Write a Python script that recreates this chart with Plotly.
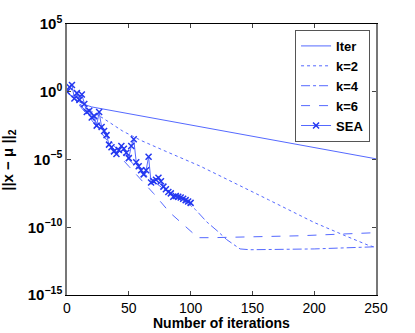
''' Convergence of the iterates '''
import plotly.graph_objects as go
import numpy as np

blue = 'rgb(85,105,255)'
mark_blue = 'rgb(35,55,240)'

# log10 of the error
iter_x = [0, 5, 10, 15, 20, 50, 100, 150, 200, 250]
iter_log = [0.0, -0.45, -0.75, -0.97, -1.12, -1.62, -2.45, -3.28, -4.12, -4.95]

k2_x = [0, 10, 20, 30, 45, 60, 80, 108, 163, 200, 227, 243, 250]
k2_log = [0.0, -0.9, -1.45, -2.0, -2.9, -3.6, -4.4, -5.5, -7.97, -9.65, -10.7, -11.3, -11.5]

k4_x = [0, 10, 20, 30, 40, 50, 60, 70, 80, 90, 100, 104, 113, 122, 129, 140, 148, 200, 250]
k4_log = [0.0, -0.9, -1.9, -3.0, -4.2, -5.0, -5.9, -6.6, -7.3, -7.9, -8.4, -8.7, -9.6,
          -10.3, -10.9, -11.6, -11.66, -11.6, -11.44]

k6_x = [0, 10, 20, 30, 40, 50, 60, 70, 83, 94, 106, 117, 188, 250]
k6_log = [0.0, -1.0, -2.1, -3.3, -4.5, -5.5, -6.5, -7.5, -8.9, -9.8, -10.77, -10.77, -10.63, -10.4]

sea_x = list(range(0, 101, 2))
sea_log = [0.0, 0.35, 0.5, -0.5, -0.1, -0.6, -0.2, -0.9, -1.5, -1.4, -1.9, -1.8, -2.5, -1.5,
           -2.6, -2.9, -3.2, -3.9, -4.1, -4.4, -4.6, -4.3, -4.0, -4.2, -4.5, -4.9, -4.0, -3.5,
           -5.2, -5.5, -5.8, -6.1, -5.8, -4.8, -6.7, -6.6, -6.5, -6.35, -6.6, -7.0, -7.2,
           -7.4, -7.5, -7.75, -7.7, -7.75, -7.8, -7.9, -8.0, -8.1, -8.2]

series = [
    ('Iter', iter_x, iter_log, 'solid'),
    ('k=2', k2_x, k2_log, 'dot'),
    ('k=4', k4_x, k4_log, 'dashdot'),
    ('k=6', k6_x, k6_log, 'dash'),
]

fig = go.Figure()
for name, xs, ys, dash in series:
    fig.add_trace(go.Scatter(
        x=xs, y=10.0 ** np.array(ys), mode='lines', name='<b>' + name + '</b>',
        line=dict(color=blue, width=1, dash=dash)
    ))

fig.add_trace(go.Scatter(
    x=sea_x, y=10.0 ** np.array(sea_log), mode='lines+markers', name='<b>SEA</b>',
    line=dict(color=blue, width=1),
    marker=dict(symbol='x-thin', size=6, line=dict(color=mark_blue, width=1.5))
))

txt = dict(family='Liberation Sans', size=15, color='black')
small = dict(family='Liberation Sans', size=14, color='black')
fig.update_layout(
    width=415, height=333,
    margin=dict(l=67, r=39, t=24, b=38),
    plot_bgcolor='white', paper_bgcolor='white',
    font=txt,
    showlegend=True,
    legend=dict(x=0.738, y=0.978, xanchor='left', yanchor='top',
                bordercolor='#555', borderwidth=1, bgcolor='white',
                font=dict(family='Liberation Sans', size=13, color='black'),
                tracegroupgap=0, itemwidth=30),
    xaxis=dict(
        range=[0, 250], tickvals=[0, 50, 100, 150, 200, 250],
        ticks='inside', ticklen=4, showgrid=False, zeroline=False,
        showline=True, linecolor='black', linewidth=1, mirror='ticks',
        automargin=False, tickfont=small,
        tickprefix='<b>', ticksuffix='</b>'
    ),
    yaxis=dict(
        type='log', range=[-15, 5],
        tickvals=[1e5, 1e0, 1e-5, 1e-10, 1e-15],
        ticktext=['<b>10<sup>5</sup></b>', '<b>10<sup>0</sup></b>', '<b>10<sup>−5</sup></b>',
                  '<b>10<sup>−10</sup></b>', '<b>10<sup>−15</sup></b>'],
        ticks='inside', ticklen=4, showgrid=False, zeroline=False,
        showline=True, linecolor='#777', linewidth=1.5, mirror='ticks',
        automargin=False, tickfont=txt
    ),
    annotations=[
        dict(text='<b>Number of iterations</b>', xref='paper', yref='paper',
             x=0.5, y=-0.142, yanchor='bottom', showarrow=False, font=small),
        dict(text='<b>||x − μ ||<sub>2</sub></b>', xref='paper', yref='paper',
             x=-0.19, y=0.5, textangle=-90, xanchor='center', showarrow=False,
             font=txt),
    ]
)

# the page's own 8px body margin would shift the whole figure
fig.write_html("out.html", config={'displayModeBar': False},
               post_script="document.body.style.margin='0px';")
